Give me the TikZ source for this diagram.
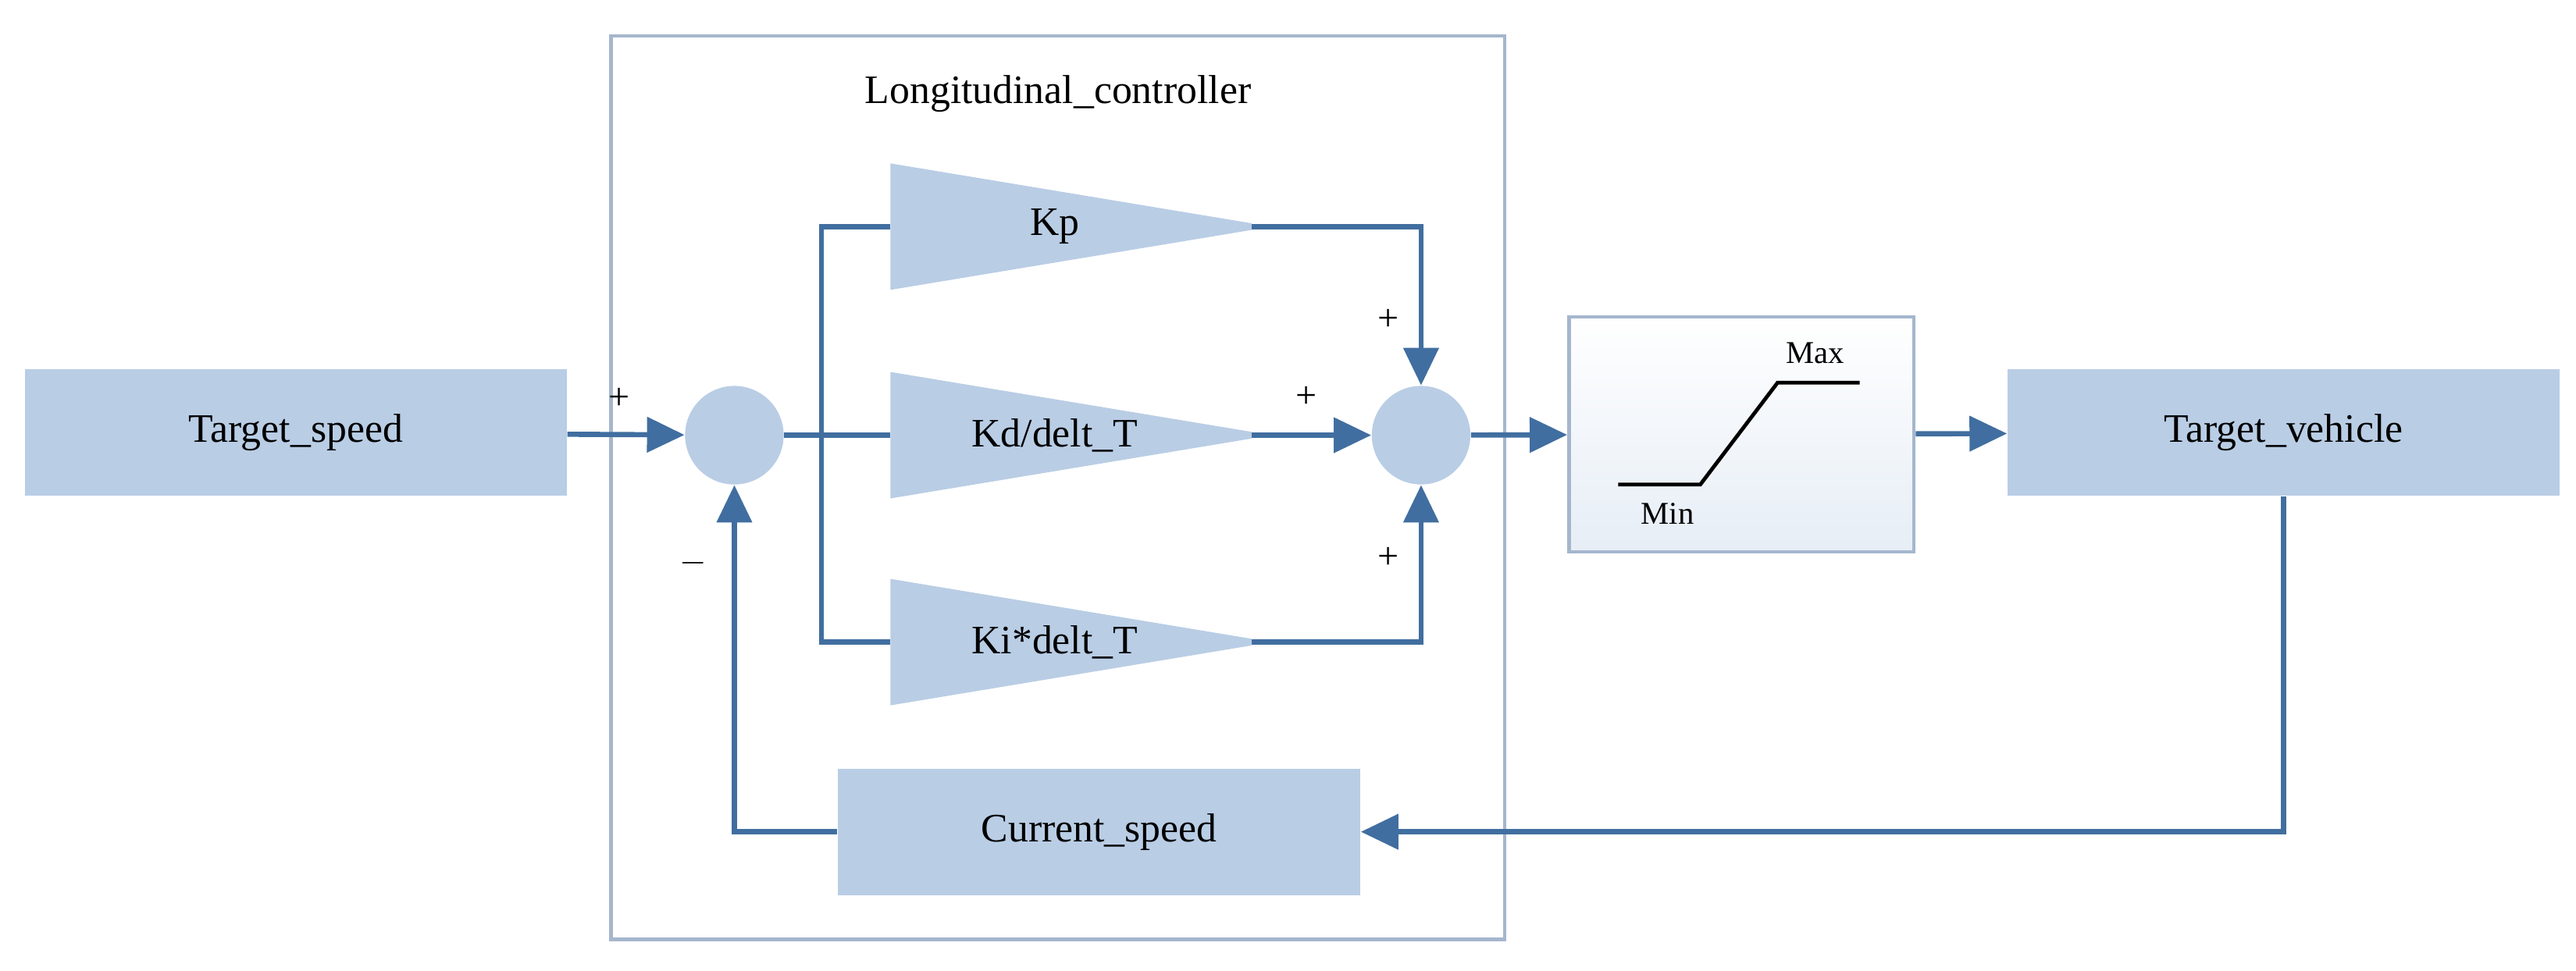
\documentclass[tikz,border=0pt]{standalone}
\usepackage{fontspec}
\setmainfont{Liberation Serif}
\usetikzlibrary{positioning, arrows.meta}
\definecolor{boxfill}{RGB}{185,205,229}
\definecolor{wire}{RGB}{65,110,160}
\definecolor{frame}{RGB}{165,182,205}
\begin{document}
\begin{tikzpicture}[x=0.02cm, y=-0.02cm]
	\tikzset{block/.style={fill=boxfill, draw=none, font=\fontsize{14}{16}\selectfont}}
	\tikzset{summer/.style={circle, fill=boxfill, minimum size=60*0.02cm, inner sep=0pt}}
	\tikzset{wire/.style={draw=wire, line width=1.8pt}}
	\tikzset{sig/.style={wire, -{Triangle[length=13pt, width=12pt]}}}
	\tikzset{sign/.style={font=\fontsize{13}{14}\selectfont}}
	\useasboundingbox (0,0) rectangle (1568,591);
	% frame
	\draw[frame, line width=1.2pt] (372,22) rectangle (916,572);
	\node[font=\fontsize{14}{16}\selectfont] (title) at (644,57) {Longitudinal\_controller};
	% blocks
	\node[block, minimum width=330*0.02cm, minimum height=77*0.02cm] (tspeed) at (180,263.5) {Target\_speed};
	\node[block, minimum width=336*0.02cm, minimum height=77*0.02cm] (tveh) at (1390,263.5) {Target\_vehicle};
	\node[block, minimum width=318*0.02cm, minimum height=77*0.02cm] (cspeed) at (669,506.5) {Current\_speed};
	\node[summer] (sum1) at (447,265) {};
	\node[summer] (sum2) at (865,265) {};
	% gains
	\foreach \name/\y/\tag in {kp/138/{Kp}, kd/265/{Kd/delt\_T}, ki/391/{Ki*delt\_T}} {
		\fill[boxfill] (542,\y-38.5) -- (762,\y-2) -- (762,\y+2) -- (542,\y+38.5) -- cycle;
		\coordinate (\name-in) at (542,\y);
		\coordinate (\name-out) at (762,\y);
		\node[font=\fontsize{14}{16}\selectfont] (\name) at (642,\y) {\tag};
	}
	% saturation
	\node[draw=frame, line width=1.2pt, top color=white, bottom color=boxfill!35, minimum width=210*0.02cm, minimum height=143*0.02cm] (sat) at (1060,264.5) {};
	\draw[line width=1.3pt] (985,295) -- (1035,295) -- (1082,233) -- (1132,233);
	\node[font=\fontsize{11}{12}\selectfont] (smax) at (1105,215) {Max};
	\node[font=\fontsize{11}{12}\selectfont] (smin) at (1015,313) {Min};
	% connections
	\coordinate (split) at (500,265);
	\draw[sig] (tspeed) -- (sum1);
	\draw[wire] (sum1) -- (kd-in);
	\draw[wire] (kp-in) -| (split) |- (ki-in);
	\draw[sig] (kd-out) -- (sum2);
	\draw[sig] (kp-out) -| (sum2);
	\draw[sig] (ki-out) -| (sum2);
	\draw[sig] (sum2) -- (sat);
	\draw[sig] (sat) -- (tveh);
	\draw[sig] (tveh.south) |- (cspeed);
	\draw[sig] (cspeed) -| (sum1);
	% signs
	\node[sign] (p1) at (377,243) {+};
	\node[sign] (m1) at (422,343) {$-$};
	\node[sign] (p2) at (845,195) {+};
	\node[sign] (p3) at (795,242) {+};
	\node[sign] (p4) at (845,340) {+};
\end{tikzpicture}
\end{document}
